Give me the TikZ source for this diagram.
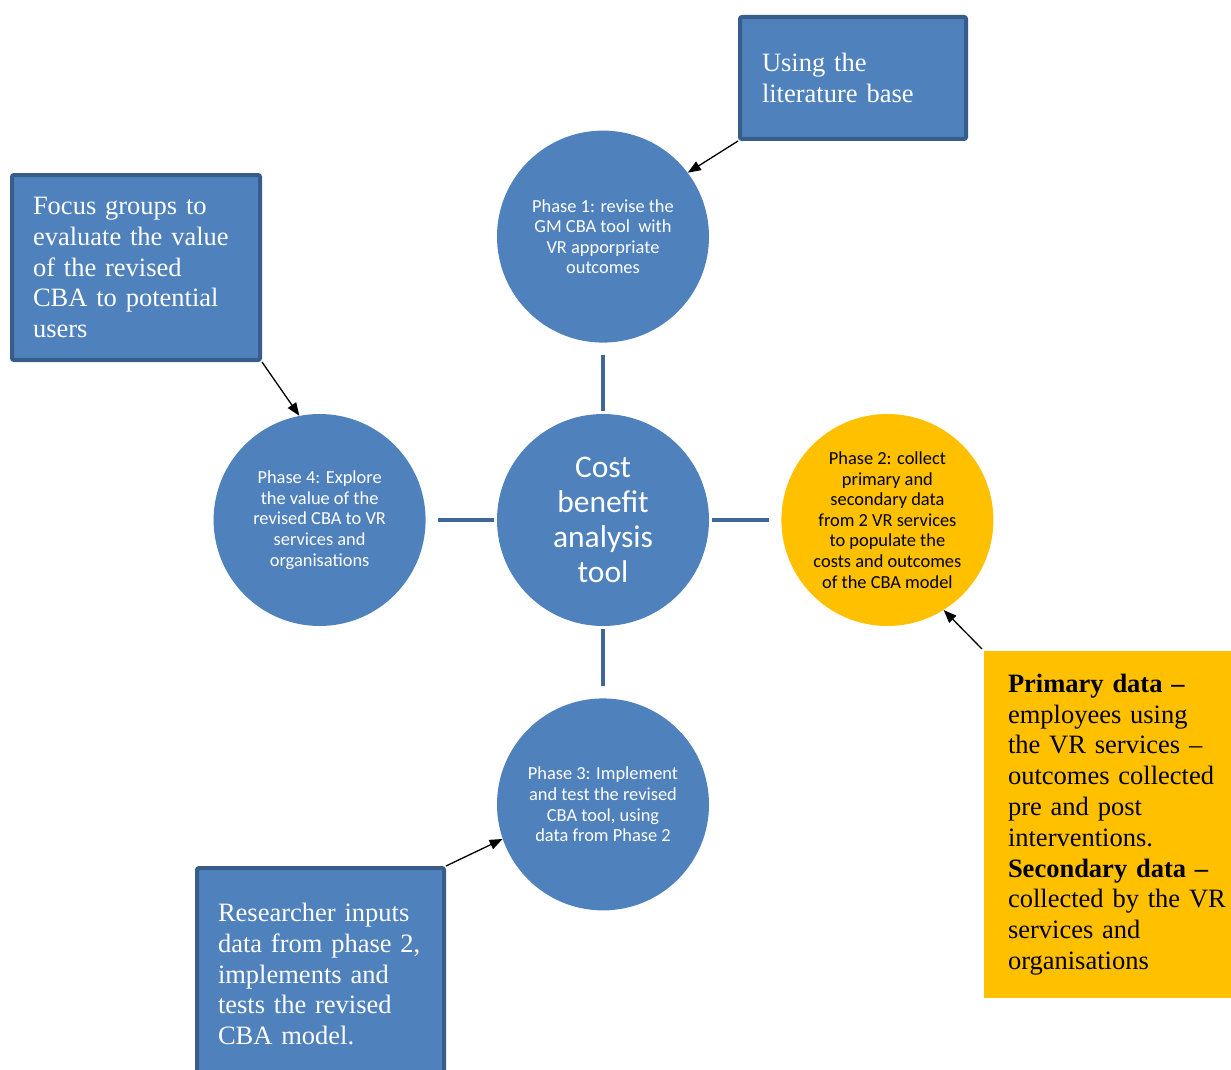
\documentclass[tikz,border=0pt]{standalone}
\usepackage{fontspec}
\setmainfont{Liberation Serif}
\newfontfamily\calibrifont{Carlito}
\usetikzlibrary{positioning,arrows.meta}
\definecolor{officeblue}{RGB}{79,129,189}
\definecolor{officeborder}{RGB}{56,93,138}
\definecolor{spokeblue}{RGB}{62,102,152}
\definecolor{officegold}{RGB}{255,192,0}

\begin{document}
\begin{tikzpicture}[x=1pt,y=-1pt,
  phase/.style={circle,fill=officeblue,minimum size=212pt,inner sep=0pt,align=center,text=white,font=\calibrifont\fontsize{18.4}{20.6}\selectfont},
  hubnode/.style={phase,font=\calibrifont\fontsize{31.5}{34.8}\selectfont},
  note/.style={draw=officeborder,line width=4pt,rounded corners=2pt,fill=officeblue,text=white,align=left,inner ysep=0pt,font=\fontsize{26.5}{30.8}\selectfont},
  spoke/.style={spokeblue,line width=4pt,shorten <=12pt,shorten >=3pt},
  arrow/.style={-{Triangle[length=13pt,width=10pt]},line width=1.3pt,black}
]
  \path[use as bounding box,clip] (0,0) rectangle (1231,1070);
  % hub and the four phases
  \node[hubnode] (hub) at (603,520) {Cost\\benefit\\analysis\\tool};
  \node[phase,above=71pt of hub] (p1) {Phase 1: revise the\\GM CBA tool\ \ with\\VR apporpriate\\outcomes};
  \node[phase,right=72pt of hub,fill=officegold,text=black] (p2) {Phase 2: collect\\primary and\\secondary data\\from 2 VR services\\to populate the\\costs and outcomes\\of the CBA model};
  \node[phase,below=72pt of hub] (p3) {Phase 3: Implement\\and test the revised\\CBA tool, using\\data from Phase 2};
  \node[phase,left=71pt of hub] (p4) {Phase 4: Explore\\the value of the\\revised CBA to VR\\services and\\organisations};
  \foreach \p in {p1,p2,p3,p4} \draw[spoke] (\p) -- (hub);

  % notes
  \node[note,text width=182pt,inner xsep=22pt,minimum height=122pt] (lit) at (853,78) {Using the\\literature base};
  \node[note,text width=206pt,inner xsep=21pt,minimum height=185pt] (focus) at (136,267.5) {Focus groups to\\evaluate the value\\of the revised\\CBA to potential\\users};
  \node[note,text width=205pt,inner xsep=21pt,minimum height=212pt] (research) at (320.5,974) {Researcher inputs\\data from phase 2,\\implements and\\tests the revised\\CBA model.};
  \node[note,draw=none,fill=officegold,text=black,rounded corners=0pt,text width=240pt,inner xsep=24pt,minimum height=347pt,anchor=west] (primary) at (982,824.5) {\textbf{Primary data –}\\employees using\\the VR services –\\outcomes collected\\pre and post\\interventions.\\\textbf{Secondary data –}\\collected by the VR\\services and\\organisations};

  \draw[arrow] (lit.south west) -- (p1.37);
  \draw[arrow] (focus.south east) -- (p4.101);
  \draw[arrow] (research.north east) -- (p3.199);
  \draw[arrow] (primary.north west) -- (p2.-58);
\end{tikzpicture}
\end{document}
